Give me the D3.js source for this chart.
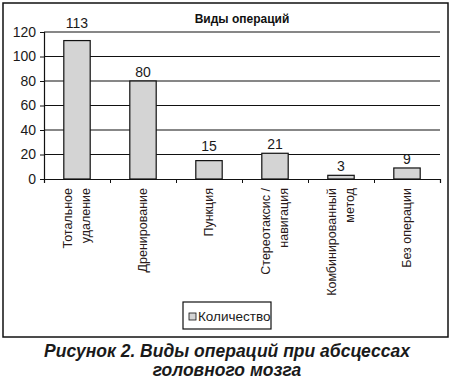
<!DOCTYPE html>
<html>
<head>
<meta charset="utf-8">
<script src="https://cdn.jsdelivr.net/npm/d3@7"></script>
<style>
  body { margin: 0; background: #fff; }
  text { font-family: "Liberation Sans", Arial, sans-serif; }
</style>
</head>
<body>
<div id="chart"></div>
<script>
// chart data
let categories = [
    ['Тотальное', 'удаление'],
    ['Дренирование'],
    ['Пункция'],
    ['Стереотаксис /', 'навигация'],
    ['Комбинированный', 'метод'],
    ['Без операции']
];
let counts = [113, 80, 15, 21, 3, 9];
let yTicks = [0, 20, 40, 60, 80, 100, 120];
let seriesName = 'Количество';
let chartTitle = 'Виды операций';
let caption = ['Рисунок 2. Виды операций при абсцессах', 'головного мозга'];

let svgWidth = 453;
let svgHeight = 380;

// plot area inside the frame
let chartMargin = {top: 32, left: 44, right: 13, bottom: 201};
let chartWidth = svgWidth - chartMargin.left - chartMargin.right;
let chartHeight = svgHeight - chartMargin.top - chartMargin.bottom;

let svg = d3.select('#chart')
    .append('svg')
    .attr('width', svgWidth)
    .attr('height', svgHeight);

// outer frame
svg.append('rect')
    .attr('x', 3).attr('y', 3)
    .attr('width', 445).attr('height', 334)
    .attr('fill', 'none')
    .attr('stroke', '#111')
    .attr('stroke-width', 1.5);

let chartGroup = svg.append('g')
    .attr('transform', `translate(${chartMargin.left}, ${chartMargin.top})`);

let xScale = d3.scaleBand()
    .domain(d3.range(categories.length))
    .range([0, chartWidth])
    .paddingInner(0.6)
    .paddingOuter(0.3);

let yScale = d3.scaleLinear()
    .domain([0, 120])
    .range([chartHeight, 0]);

// gridlines
chartGroup.selectAll('.grid')
    .data(yTicks.filter(d => d > 0))
    .enter()
    .append('line')
    .attr('x1', 0)
    .attr('x2', chartWidth)
    .attr('y1', d => yScale(d))
    .attr('y2', d => yScale(d))
    .attr('stroke', '#111')
    .attr('stroke-width', 1.2);

// y axis
let yAxis = d3.axisLeft(yScale).tickValues(yTicks).tickSize(4).tickPadding(4);
let yG = chartGroup.append('g').call(yAxis);
yG.select('.domain').attr('stroke', '#111').attr('stroke-width', 1.2);
yG.selectAll('.tick line').attr('stroke', '#111');
yG.selectAll('text')
    .attr('font-size', 14)
    .attr('font-family', '"Liberation Sans", Arial, sans-serif')
    .attr('fill', '#1a1a1a');

// x axis line with ticks at category boundaries
let xLine = d3.scaleLinear().domain([0, categories.length]).range([0, chartWidth]);
let xAxis = d3.axisBottom(xLine).ticks(categories.length).tickSize(4).tickFormat('');
let xG = chartGroup.append('g')
    .attr('transform', `translate(0, ${chartHeight})`)
    .call(xAxis);
xG.select('.domain').attr('stroke', '#111').attr('stroke-width', 1.2);
xG.selectAll('.tick line').attr('stroke', '#111');

// bars
chartGroup.selectAll('.bar')
    .data(counts)
    .enter()
    .append('rect')
    .attr('x', (d, i) => xScale(i))
    .attr('y', d => yScale(d))
    .attr('width', xScale.bandwidth())
    .attr('height', d => chartHeight - yScale(d))
    .attr('fill', '#d4d4d4')
    .attr('stroke', '#111')
    .attr('stroke-width', 1.2);

// value labels, nudged above a gridline when they would sit on it
let capHeight = 9;
function labelY(d) {
    let base = yScale(d) - 4;
    yTicks.forEach(t => {
        let gy = yScale(t);
        if (t > 0 && gy < base && gy > base - capHeight) base = gy - 4;
    });
    return base;
}
chartGroup.selectAll('.val')
    .data(counts)
    .enter()
    .append('text')
    .attr('x', (d, i) => xScale(i) + xScale.bandwidth() / 2)
    .attr('y', d => labelY(d))
    .attr('text-anchor', 'middle')
    .attr('font-size', 14)
    .attr('fill', '#1a1a1a')
    .text(d => d);

// rotated category labels
let labelGroups = chartGroup.selectAll('.cat')
    .data(categories)
    .enter()
    .append('g')
    .attr('transform', (d, i) => `translate(${xScale(i) + xScale.bandwidth() / 2}, ${chartHeight + 9}) rotate(-90)`);

labelGroups.selectAll('text')
    .data(d => d.map((line, j) => ({line: line, j: j, n: d.length})))
    .enter()
    .append('text')
    .attr('x', 0)
    .attr('y', d => (d.j - (d.n - 1) / 2) * 18 + 4)
    .attr('text-anchor', 'end')
    .attr('font-size', 12.5)
    .attr('fill', '#2a1a1a')
    .text(d => d.line);

// title
svg.append('text')
    .attr('x', 242)
    .attr('y', 23)
    .attr('text-anchor', 'middle')
    .attr('font-size', 12)
    .attr('font-weight', 'bold')
    .attr('fill', '#111')
    .text(chartTitle);

// legend
let legend = svg.append('g').attr('transform', 'translate(183, 302)');
legend.append('rect')
    .attr('width', 88).attr('height', 27)
    .attr('fill', '#fff')
    .attr('stroke', '#111')
    .attr('stroke-width', 1.2);
legend.append('rect')
    .attr('x', 6).attr('y', 11)
    .attr('width', 7).attr('height', 7)
    .attr('fill', '#d4d4d4')
    .attr('stroke', '#111')
    .attr('stroke-width', 0.8);
legend.append('text')
    .attr('x', 15).attr('y', 19)
    .attr('font-size', 13.5)
    .attr('fill', '#1a1a1a')
    .text(seriesName);

// figure caption
svg.selectAll('.caption')
    .data(caption)
    .enter()
    .append('text')
    .attr('x', 227)
    .attr('y', (d, i) => 357 + i * 19)
    .attr('text-anchor', 'middle')
    .attr('font-size', 17.5)
    .attr('font-weight', 'bold')
    .attr('font-style', 'italic')
    .attr('fill', '#1a1a1a')
    .text(d => d);
</script>
</body>
</html>
